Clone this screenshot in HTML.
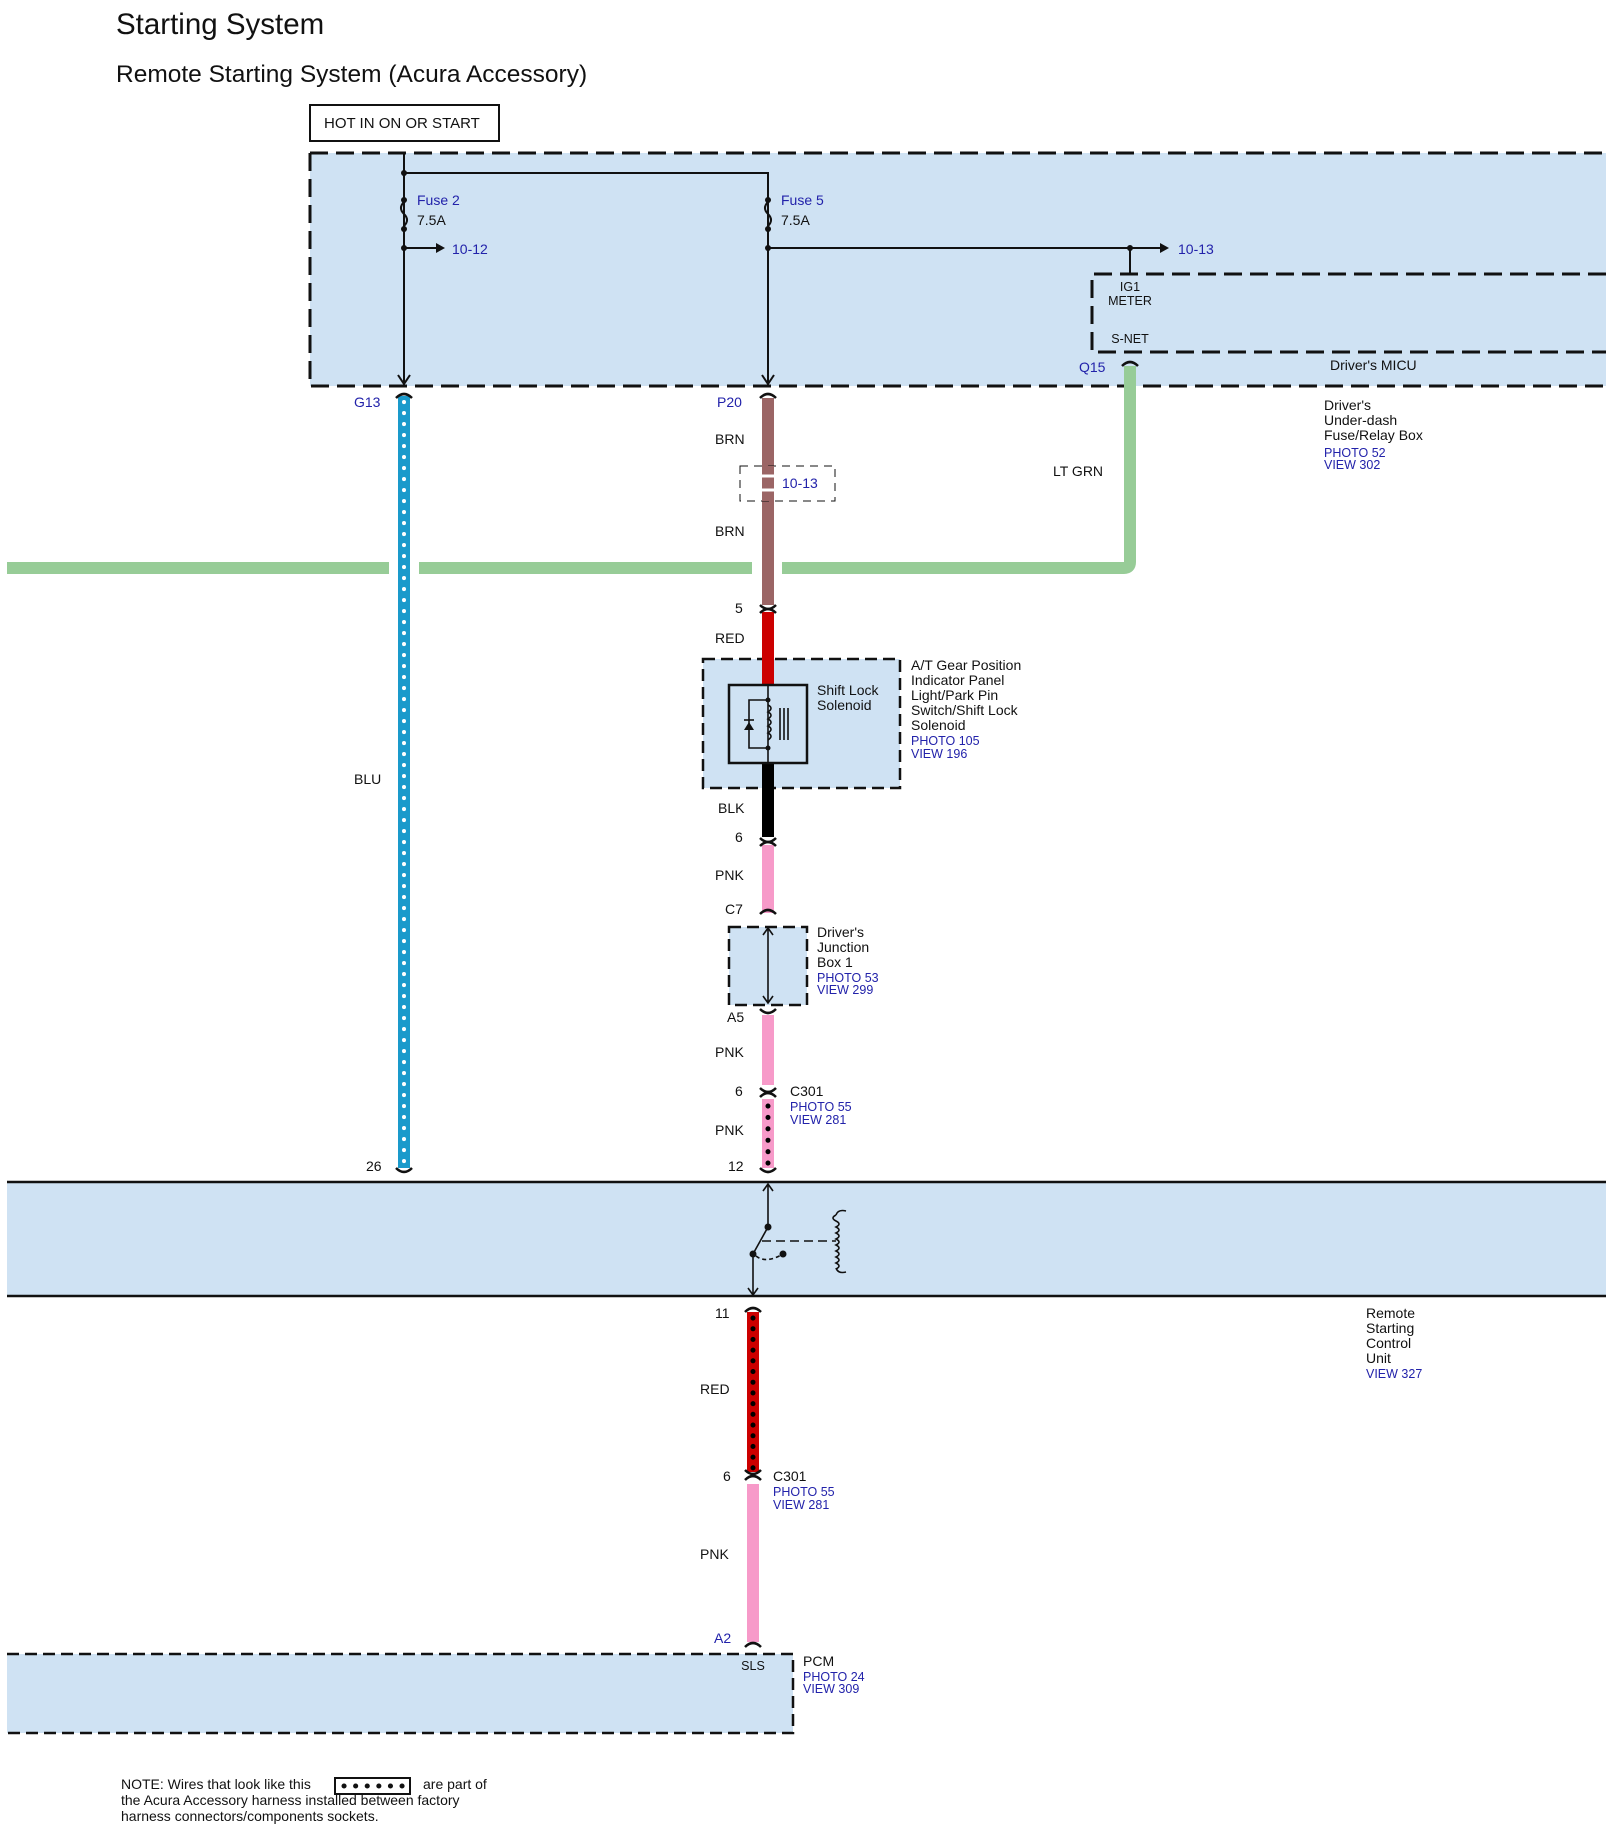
<!DOCTYPE html>
<html><head><meta charset="utf-8"><style>
html,body{margin:0;padding:0;background:#fff}
svg{display:block}
text{font-family:"Liberation Sans",sans-serif;font-size:14px;fill:#111}
.b{fill:#2222aa}
.s{font-size:12.5px}
</style></head><body>
<svg width="1614" height="1838" viewBox="0 0 1614 1838" xmlns="http://www.w3.org/2000/svg">
<text x="116" y="34" style="font-size:29.5px">Starting System</text>
<text x="116" y="82" style="font-size:24.5px">Remote Starting System (Acura Accessory)</text>
<rect x="310" y="105" width="189" height="36" fill="#fff" stroke="#111" stroke-width="2"/>
<text x="324" y="128" style="font-size:15px">HOT IN ON OR START</text>

<!-- fuse/relay box -->
<rect x="310" y="153" width="1296" height="233" fill="#cfe2f3"/>
<path d="M310 153H1606M310 153V386H1606" fill="none" stroke="#111" stroke-width="3" stroke-dasharray="18,8"/>
<rect x="1092" y="274" width="514" height="78" fill="#cfe2f3"/>
<path d="M1606 274H1092V352H1606" fill="none" stroke="#111" stroke-width="3" stroke-dasharray="18,8"/>

<g stroke="#111" stroke-width="2" fill="none">
<path d="M404 153V382M404 173H768V382"/>
<path d="M404 202q-6 6 0 12q6 6 0 12M768 202q-6 6 0 12q6 6 0 12"/>
<path d="M404 248H436M768 248H1160M1130 248V274"/>
<path d="M398 375l6 9l6 -9M762 375l6 9l6 -9"/>
</g>
<g fill="#111"><circle cx="404" cy="173" r="3"/><circle cx="404" cy="200" r="3"/><circle cx="404" cy="229" r="3"/><circle cx="404" cy="248" r="3"/>
<circle cx="768" cy="200" r="3"/><circle cx="768" cy="229" r="3"/><circle cx="768" cy="248" r="3"/><circle cx="1130" cy="248" r="3"/>
<path d="M436 243l9 5l-9 5z"/><path d="M1160 243l9 5l-9 5z"/></g>
<text x="417" y="205" class="b">Fuse 2</text><text x="417" y="225">7.5A</text>
<text x="781" y="205" class="b">Fuse 5</text><text x="781" y="225">7.5A</text>
<text x="452" y="254" class="b">10-12</text><text x="1178" y="254" class="b">10-13</text>
<text x="1130" y="291" class="s" text-anchor="middle">IG1</text><text x="1130" y="305" class="s" text-anchor="middle">METER</text>
<text x="1130" y="343" class="s" text-anchor="middle">S-NET</text>
<text x="1079" y="372" class="b">Q15</text>
<text x="1330" y="370">Driver's MICU</text>
<text x="1324" y="410">Driver's</text><text x="1324" y="425">Under-dash</text><text x="1324" y="440">Fuse/Relay Box</text>
<text x="1324" y="457" class="b s">PHOTO 52</text><text x="1324" y="469" class="b s">VIEW 302</text>

<!-- green wire -->
<path d="M7 568H389M419 568H752M782 568H1124q6 0 6 -6V366" fill="none" stroke="#97cc97" stroke-width="12"/>
<text x="1053" y="476">LT GRN</text>

<!-- blue wire -->
<path d="M404 396V1168" stroke="#1a9acb" stroke-width="12"/>
<path d="M404 402V1166" stroke="#fff" stroke-width="4" stroke-linecap="round" stroke-dasharray="0.1,10.9"/>
<text x="354" y="407" class="b">G13</text>
<text x="354" y="784">BLU</text>
<text x="366" y="1171">26</text>
<text x="404" y="1201" class="s" text-anchor="middle">IG1</text>

<!-- middle wire -->
<path d="M768 398V605" stroke="#9b6565" stroke-width="12"/>
<rect x="740" y="466" width="95" height="35" fill="#fff" stroke="#111" stroke-dasharray="8,6"/>
<path d="M768 466V501" stroke="#9b6565" stroke-width="12"/>
<path d="M760 476H776M760 490H776" stroke="#fff" stroke-width="3"/>
<text x="782" y="488" class="b">10-13</text>
<text x="717" y="407" class="b">P20</text>
<text x="715" y="444">BRN</text><text x="715" y="536">BRN</text>
<text x="735" y="613">5</text>
<path d="M768 615V685" stroke="#cc0000" stroke-width="12"/>
<text x="715" y="643">RED</text>
<rect x="703" y="659" width="197" height="129" fill="#cfe2f3" stroke="#111" stroke-width="2.5" stroke-dasharray="12,6"/>
<path d="M768 612V690" stroke="#cc0000" stroke-width="12"/>
<path d="M768 763V837" stroke="#000" stroke-width="12"/>
<rect x="729" y="685" width="78" height="78" fill="#cfe2f3" stroke="#111" stroke-width="2.5"/>
<g stroke="#111" stroke-width="1.6" fill="none">
<path d="M768 685V763M768 700H749V748H768"/>
<path d="M768 705q6 3 0 7q6 3 0 7q6 3 0 7q6 3 0 7q6 3 0 7"/>
<path d="M780 708V740M784 708V740M788 708V740"/>
<path d="M744 720H754"/>
</g>
<path d="M749 722l-5 8h10z" fill="#111"/>
<circle cx="768" cy="700" r="2.5" fill="#111"/><circle cx="768" cy="748" r="2.5" fill="#111"/>
<text x="817" y="695">Shift Lock</text><text x="817" y="710">Solenoid</text>
<text x="911" y="670">A/T Gear Position</text><text x="911" y="685">Indicator Panel</text><text x="911" y="700">Light/Park Pin</text><text x="911" y="715">Switch/Shift Lock</text><text x="911" y="730">Solenoid</text>
<text x="911" y="745" class="b s">PHOTO 105</text><text x="911" y="758" class="b s">VIEW 196</text>
<text x="718" y="813">BLK</text>
<text x="735" y="842">6</text>
<path d="M768 845V913" stroke="#f79ac9" stroke-width="12"/>
<text x="715" y="880">PNK</text>
<text x="725" y="914">C7</text>
<rect x="729" y="927" width="78" height="78" fill="#cfe2f3" stroke="#111" stroke-width="2.5" stroke-dasharray="12,6"/>
<g stroke="#111" stroke-width="1.6" fill="none"><path d="M768 928V1003M763 935l5 -7l5 7M763 996l5 7l5 -7"/></g>
<text x="817" y="937">Driver's</text><text x="817" y="952">Junction</text><text x="817" y="967">Box 1</text>
<text x="817" y="982" class="b s">PHOTO 53</text><text x="817" y="994" class="b s">VIEW 299</text>
<text x="727" y="1022">A5</text>
<path d="M768 1015V1085" stroke="#f79ac9" stroke-width="12"/>
<text x="715" y="1057">PNK</text>
<text x="735" y="1096">6</text>
<text x="790" y="1096">C301</text><text x="790" y="1111" class="b s">PHOTO 55</text><text x="790" y="1124" class="b s">VIEW 281</text>
<path d="M768 1099V1168" stroke="#f79ac9" stroke-width="12"/>
<path d="M768 1106V1164" stroke="#000" stroke-width="5" stroke-linecap="round" stroke-dasharray="0.1,11.3"/>
<text x="715" y="1135">PNK</text>
<text x="728" y="1171">12</text>

<!-- remote unit -->
<rect x="7" y="1182" width="1599" height="114" fill="#cfe2f3"/>
<path d="M7 1182H1606M7 1296H1606" stroke="#111" stroke-width="2.5"/>
<g stroke="#111" stroke-width="1.6" fill="none">
<path d="M768 1184V1227M763 1191l5 -7l5 7"/>
<path d="M768 1227L753 1254M753 1254V1295M748 1288l5 7l5 -7"/>
<path d="M762 1241H836" stroke-dasharray="9,5"/>
<path d="M756 1256q10 8 27 -2" stroke-dasharray="4,3"/>
<path d="M836 1215q-6 3 0 6q6 3 0 6q6 3 0 6q6 3 0 6q6 3 0 6q6 3 0 6q6 3 0 6q6 3 0 6q6 3 0 6M836 1215q2 -6 10 -4M836 1268q2 6 10 4"/>
</g>
<g fill="#111"><circle cx="768" cy="1227" r="3.5"/><circle cx="753" cy="1254" r="3.5"/><circle cx="783" cy="1254" r="3.5"/></g>
<text x="1366" y="1318">Remote</text><text x="1366" y="1333">Starting</text><text x="1366" y="1348">Control</text><text x="1366" y="1363">Unit</text>
<text x="1366" y="1378" class="b s">VIEW 327</text>

<!-- lower wire -->
<path d="M753 1312V1472" stroke="#cc0000" stroke-width="12"/>
<path d="M753 1318V1468" stroke="#000" stroke-width="5" stroke-linecap="round" stroke-dasharray="0.1,10.6"/>
<text x="715" y="1318">11</text>
<text x="700" y="1394">RED</text>
<text x="723" y="1481">6</text>
<text x="773" y="1481">C301</text><text x="773" y="1496" class="b s">PHOTO 55</text><text x="773" y="1509" class="b s">VIEW 281</text>
<path d="M753 1484V1642" stroke="#f79ac9" stroke-width="12"/>
<text x="700" y="1559">PNK</text>
<text x="714" y="1643" class="b">A2</text>

<!-- connector brackets -->
<g stroke="#111" stroke-width="2.5" fill="none">
<path d="M396 398q8 -8 16 0M760 398q8 -8 16 0"/>
<path d="M396 1168q8 8 16 0"/>
<path d="M760 605q8 8 16 0M760 613q8 -8 16 0"/>
<path d="M760 838q8 8 16 0M760 846q8 -8 16 0"/>
<path d="M760 914q8 -8 16 0M760 1009q8 8 16 0"/>
<path d="M760 1088q8 8 16 0M760 1097q8 -8 16 0"/>
<path d="M760 1168q8 8 16 0"/>
<path d="M745 1312q8 -8 16 0"/>
<path d="M745 1470q8 8 16 0M745 1480q8 -8 16 0"/>
<path d="M745 1647q8 -8 16 0"/>
<path d="M1122 366q8 -8 16 0"/>
</g>

<!-- PCM -->
<rect x="7" y="1654" width="786" height="79" fill="#cfe2f3"/>
<path d="M7 1654H793V1733H7" fill="none" stroke="#111" stroke-width="2.5" stroke-dasharray="12,6"/>
<text x="753" y="1670" class="s" text-anchor="middle">SLS</text>
<text x="803" y="1666">PCM</text><text x="803" y="1681" class="b s">PHOTO 24</text><text x="803" y="1693" class="b s">VIEW 309</text>

<!-- note -->
<text x="121" y="1789">NOTE: Wires that look like this</text>
<rect x="335" y="1778" width="75" height="16" fill="#fff" stroke="#111" stroke-width="2"/>
<path d="M344 1786H404" stroke="#111" stroke-width="5" stroke-linecap="round" stroke-dasharray="0.1,11.5"/>
<text x="423" y="1789">are part of</text>
<text x="121" y="1805">the Acura Accessory harness installed between factory</text>
<text x="121" y="1821">harness connectors/components sockets.</text>
</svg>
</body></html>
